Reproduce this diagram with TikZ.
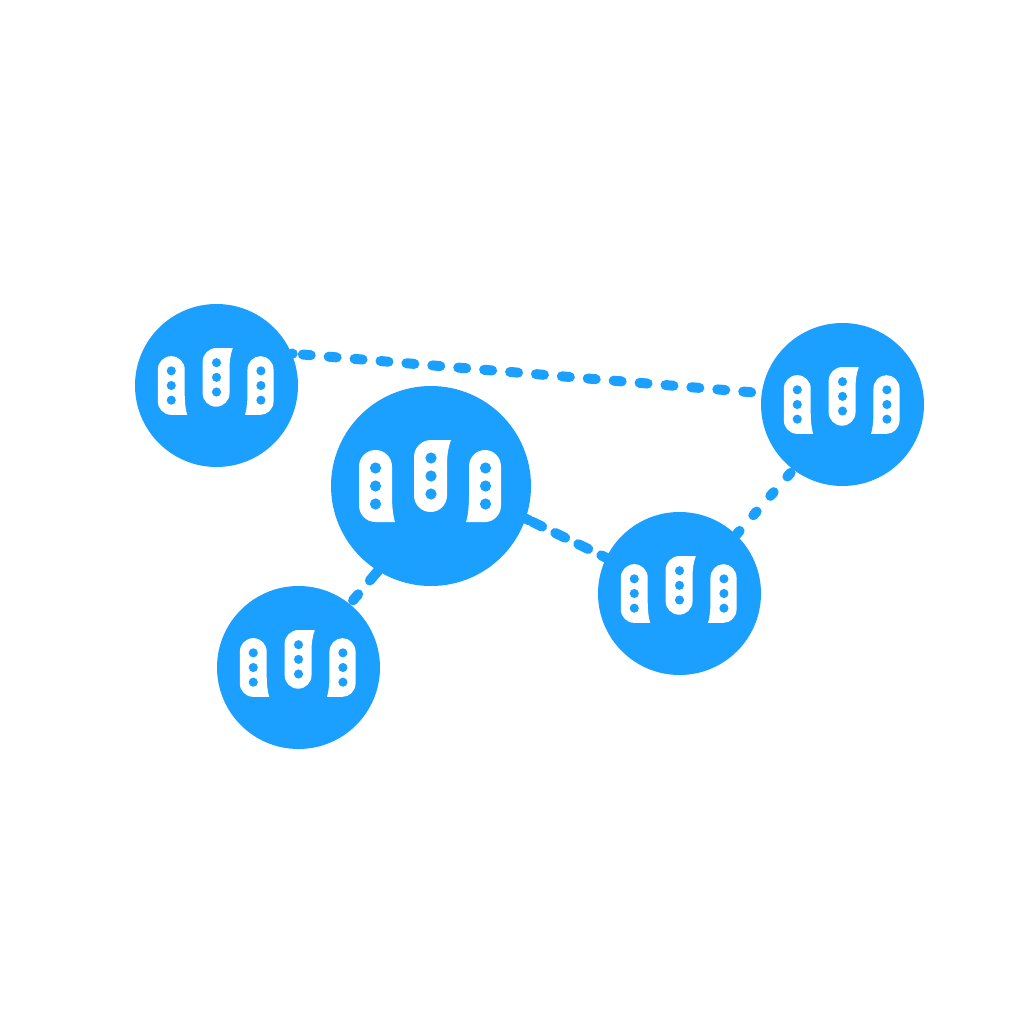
\documentclass[tikz,border=0pt]{standalone}
\definecolor{netblue}{HTML}{1BA0FF}
\tikzset{
  x=1pt,y=-1pt,
  hub/.style={circle,fill=netblue,draw=none,inner sep=0pt,minimum size=#1},
  link/.style={draw=netblue,line width=10pt,line cap=round},
  stub/.style={link,dash pattern=on #1 off 1000pt},
  pics/rack/.style={code={
    \fill[white] (-72,-19.5) .. controls (-72,-28.6) and (-64.6,-36) .. (-55.5,-36)
      .. controls (-46.4,-36) and (-39,-28.6) .. (-39,-19.5) -- (-39,10)
      .. controls (-39,20) and (-38,30) .. (-36,36) -- (-55.5,36)
      .. controls (-64.6,36) and (-72,28.6) .. (-72,19.5) -- cycle;
    \fill[white] (-17,-29) .. controls (-17,-38.4) and (-9.4,-46) .. (0,-46) -- (20,-46)
      .. controls (17,-38) and (16,-30) .. (16,-20) -- (16,9.5)
      .. controls (16,18.6) and (8.6,26) .. (-0.5,26)
      .. controls (-9.6,26) and (-17,18.6) .. (-17,9.5) -- cycle;
    \fill[white] (70,-19.5) .. controls (70,-28.6) and (62.8,-36) .. (54,-36)
      .. controls (45.2,-36) and (38,-28.6) .. (38,-19.5) -- (38,10)
      .. controls (38,20) and (37,30) .. (35,36) -- (54,36)
      .. controls (62.8,36) and (70,28.6) .. (70,19.5) -- cycle;
    \foreach \px/\py in {-55.5/-18,-55.5/0,-55.5/18,0/-28,0/-10,0/8,54.5/-18,54.5/0,54.5/18}
      \fill[netblue] (\px,\py) circle[radius=5.6];
  }}
}
\begin{document}
\begin{tikzpicture}
\useasboundingbox (0,0) rectangle (1024,1024);
\fill[white] (0,0) rectangle (1024,1024);
\node[hub=163pt] (na) at (216.5,385.5) {};
\node[hub=163pt] (nb) at (842.5,404.5) {};
\node[hub=200pt] (nc) at (431,486) {};
\node[hub=163pt] (nd) at (679.5,593.5) {};
\node[hub=163pt] (ne) at (298.5,667.5) {};
\draw[link,dash pattern=on 8pt off 18pt,dash phase=14.9pt] (na.23) -- (nb.172.6);
\draw[stub=1pt] (na.23) -- (nb.172.6);
\draw[link,dash pattern=on 11pt off 14.6pt,dash phase=18.4pt] (nc.-19.9) -- (nd.154);
\draw[stub=4pt] (nc.-19.9) -- (nd.154);
\draw[link,dash pattern=on 8pt off 18pt,dash phase=21.5pt] (nc.-122.9) -- (ne.51.4);
\draw[stub=4pt] (nc.-122.9) -- (ne.51.4);
\draw[link,dash pattern=on 5pt off 20.8pt,dash phase=21.8pt] (nb.-127.2) -- (nd.46.5);
\pic[scale=0.815] at (na) {rack};
\pic[scale=0.815] at (nb) {rack};
\pic at (nc) {rack};
\pic[scale=0.815] at (nd) {rack};
\pic[scale=0.815] at (ne) {rack};
\end{tikzpicture}
\end{document}
